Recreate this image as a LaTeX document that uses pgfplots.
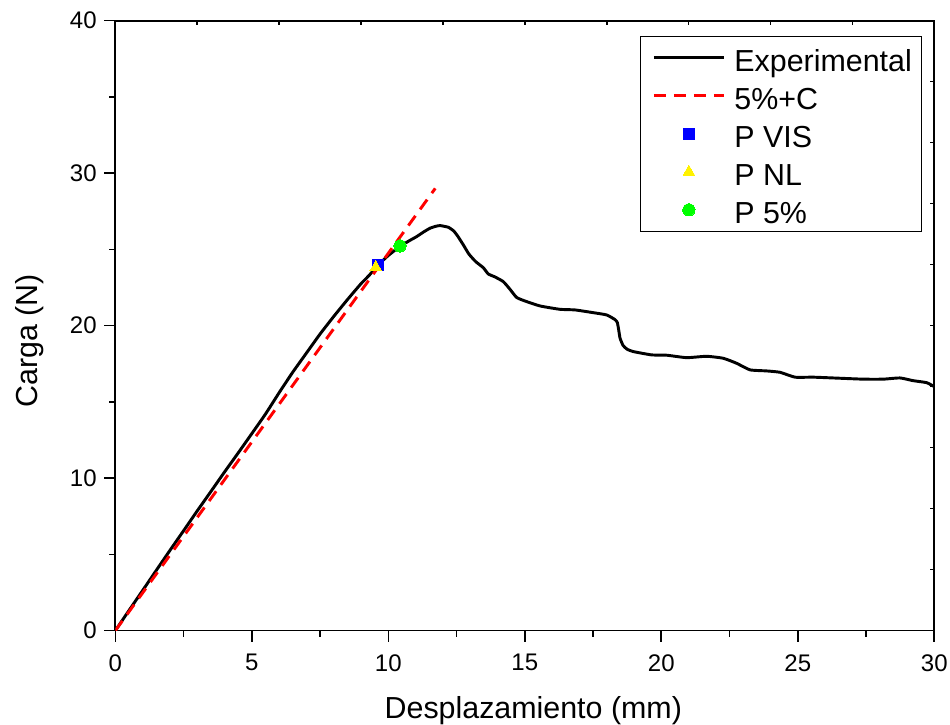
\documentclass[border=0pt]{standalone}
\usepackage{fontspec}
\setmainfont{Liberation Sans}
\usepackage{pgfplots}
\pgfplotsset{compat=1.18}
\pgfplotsset{
  lineleg/.style={legend image code/.code={\path (0pt,0pt) (61pt,0pt); \draw[##1] (5.2pt,0pt) -- (57.7pt,0pt);}},
  markleg/.style={legend image code/.code={\path (0pt,0pt) (61pt,0pt); \draw[mark repeat=2,mark phase=2,##1] plot coordinates {(5.2pt,0pt) (31.45pt,0pt) (57.7pt,0pt)};}},
}

\pgfplotstableread{
x y
0 0
0.5 1.32
1 2.63
1.5 3.95
2 5.26
2.5 6.55
3 7.85
3.5 9.12
4 10.4
4.5 11.65
5 12.92
5.5 14.2
6 15.6
6.5 16.95
7 18.2
7.5 19.45
8 20.6
8.5 21.7
9 22.75
9.3 23.3
9.63 23.98
10.0 24.6
10.43 25.2
10.8 25.6
11.04 25.84
11.3 26.15
11.53 26.39
11.75 26.52
11.9 26.56
12.2 26.45
12.4 26.2
12.55 25.85
12.75 25.29
12.95 24.7
13.2 24.2
13.48 23.8
13.66 23.39
13.9 23.2
14.21 22.89
14.45 22.4
14.7 21.85
15.0 21.62
15.56 21.29
16.29 21.07
16.84 21.03
17.51 20.85
18.0 20.7
18.3 20.4
18.39 20.2
18.45 19.6
18.49 19.17
18.6 18.7
18.75 18.45
18.97 18.3
19.65 18.08
20.2 18.06
20.93 17.9
21.66 17.99
22.27 17.86
22.76 17.53
23.25 17.1
23.86 17.03
24.35 16.94
24.9 16.62
25.57 16.62
26.55 16.55
27.4 16.49
28.13 16.49
28.74 16.57
29.23 16.39
29.72 16.26
30.0 16.0
}\expdata

\begin{document}
\begin{tikzpicture}
\pgfplotsset{
  every axis/.append style={
    scale only axis, width=614.25pt, height=457.5pt,
    xmin=0, xmax=30, ymin=0, ymax=40,
  }
}
\begin{axis}[
  name=main,
  xtick={0,5,...,30}, ytick={0,10,...,40},
  minor x tick num=1, minor y tick num=1,
  xtick pos=left, ytick pos=left, tick align=outside,
  major tick length=8.25pt, minor tick length=4.5pt,
  tick style={line width=1.2pt, black},
  axis line style={line width=1.3pt},
  /pgf/number format/assume math mode=true,
  tick label style={font=\fontsize{18}{21}\selectfont},
  xticklabel style={yshift=-6pt},
  yticklabel style={xshift=-2.2pt},
  xlabel={Desplazamiento (mm)}, ylabel={Carga (N)},
  label style={font=\fontsize{22.8}{26}\selectfont},
  xlabel style={at={(axis description cs:0.5104,-0.1436)}, anchor=base},
  ylabel style={at={(axis description cs:-0.0956,0.4754)}, anchor=base},
  legend style={at={(0.9846,0.9754)}, anchor=north east, draw=black, line width=0.8pt,
    font=\fontsize{22.8}{26}\selectfont, inner xsep=3.5pt, inner ysep=2pt,
    nodes={inner xsep=3.5pt, inner ysep=3pt, text height=21.5pt, text depth=1pt},
    row sep=0pt},
  legend cell align=left,
]
\addplot[black, line width=2.2pt, smooth, tension=0.3, lineleg]
  table[x=x,y=y] {\expdata};
\addlegendentry{Experimental}
\addplot[red, line width=2.2pt, dash pattern=on 9pt off 6pt, lineleg]
  coordinates {(0,0) (11.72,29.0)};
\addlegendentry{5\%+C}
\addplot[only marks, mark=square*, mark size=4.2pt, mark options={draw=blue, fill=blue, line width=0pt}, markleg]
  coordinates {(9.63,23.98)};
\addlegendentry{P VIS}
\addplot[only marks, mark=triangle*, mark size=5pt, mark options={draw=yellow, fill=yellow, line width=0pt}, markleg]
  coordinates {(9.54,23.83)};
\addlegendentry{P NL}
\addplot[only marks, mark=*, mark size=4.6pt, mark options={draw=green, fill=green, line width=0pt}, markleg]
  coordinates {(10.43,25.23)};
\addlegendentry{P 5\%}
\end{axis}
\begin{axis}[
  xtick={3,6,...,27}, ytick={4,8,...,36},
  xtick pos=right, ytick pos=right, tick align=inside,
  major tick length=3pt,
  tick style={line width=1.2pt, black},
  xticklabels={}, yticklabels={},
  axis line style={draw=none},
]
\end{axis}
\pgfresetboundingbox
\path[use as bounding box] ([shift={(-86.5pt,-70.7pt)}]main.south west) rectangle ([shift={(11.8pt,15.5pt)}]main.north east);
\end{tikzpicture}
\end{document}
